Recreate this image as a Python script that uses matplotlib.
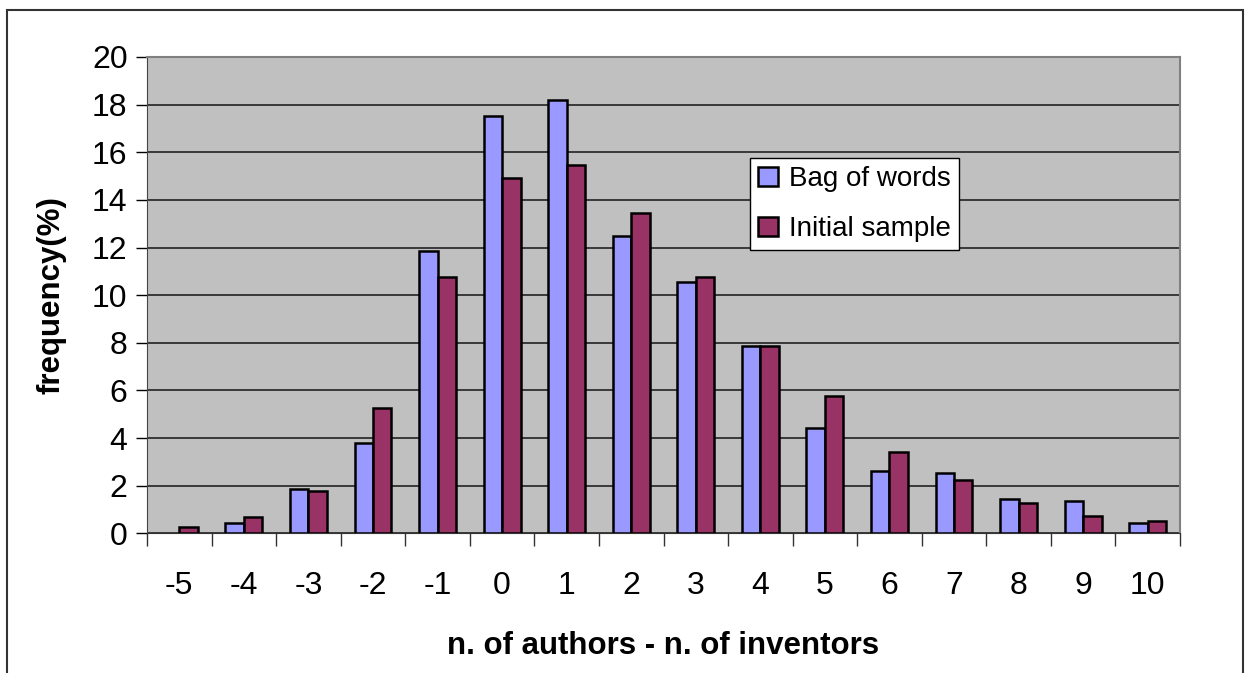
import matplotlib
matplotlib.use("Agg")
import matplotlib.pyplot as plt
import numpy as np
from matplotlib.patches import Rectangle

plt.rcParams['font.family'] = ['Liberation Sans', 'DejaVu Sans']

categories = [-5, -4, -3, -2, -1, 0, 1, 2, 3, 4, 5, 6, 7, 8, 9, 10]
bag_of_words = [0.0, 0.45, 1.87, 3.78, 11.85, 17.53, 18.18, 12.48, 10.57, 7.87, 4.44, 2.6, 2.53, 1.44, 1.36, 0.45]
initial_sample = [0.25, 0.7, 1.79, 5.25, 10.77, 14.94, 15.46, 13.47, 10.77, 7.87, 5.78, 3.43, 2.24, 1.26, 0.71, 0.53]
y_ticks = [0, 2, 4, 6, 8, 10, 12, 14, 16, 18, 20]

fig = plt.figure(figsize=(12.5, 6.73), dpi=100)
ax = fig.add_axes([147/1250, (673-533.3)/673, (1180-147)/1250, (533.3-57)/673])
ax.set_facecolor('#C0C0C0')

x = np.arange(len(categories))
w = 1/3.5
lw_bag = [1.8 if v > 0 else 0 for v in bag_of_words]
lw_init = [1.8 if v > 0 else 0 for v in initial_sample]
ax.bar(x - w/2, bag_of_words, width=w, color='#9999FF', edgecolor='black', linewidth=lw_bag, label='Bag of words', zorder=3)
ax.bar(x + w/2, initial_sample, width=w, color='#993366', edgecolor='black', linewidth=lw_init, label='Initial sample', zorder=3)

ax.set_xlim(-0.5, len(categories) - 0.5)
ax.set_ylim(0, 20)
ax.set_yticks(y_ticks)
ax.set_yticklabels([str(t) for t in y_ticks], fontsize=23)
ax.set_xticks(x)
ax.set_xticklabels([str(c) for c in categories], fontsize=23)
ax.tick_params(axis='x', which='major', length=0, pad=27)
ax.set_xticks(np.arange(-0.5, len(categories)), minor=True)
ax.tick_params(axis='x', which='minor', length=9, width=1, color='#333333', direction='out')
ax.tick_params(axis='y', length=8, width=1, color='black', direction='out', pad=6)

ax.grid(axis='y', color='#222222', linewidth=1.2, zorder=1)
ax.set_axisbelow(True)
for s in ['top', 'right']:
    ax.spines[s].set_color('#808080')
    ax.spines[s].set_linewidth(1.5)
ax.spines['left'].set_color('#444444')
ax.spines['bottom'].set_color('#333333')

ax.set_xlabel('n. of authors - n. of inventors', fontsize=22.5, fontweight='bold', labelpad=22)
ax.set_ylabel('frequency(%)', fontsize=22.5, fontweight='bold', labelpad=18)

leg = ax.legend(loc='upper left', bbox_to_anchor=((750-147)/1033, (533.3-158)/476.3),
                borderaxespad=0.0,
                fontsize=20, frameon=True, fancybox=False, edgecolor='black',
                handlelength=0.7, handleheight=0.7, handletextpad=0.4,
                borderpad=0.3, labelspacing=0.85)
leg.get_frame().set_linewidth(1.0)
leg.get_frame().set_facecolor('white')
leg.get_frame().set_alpha(1.0)
for h in leg.legend_handles:
    h.set_linewidth(1.8)

fig.patches.append(Rectangle((7/1250, -0.01), (1243-7)/1250, (663/673) + 0.01,
                             transform=fig.transFigure, fill=False, edgecolor='#333333', linewidth=1.5))

fig.savefig('out.png', dpi=100)
